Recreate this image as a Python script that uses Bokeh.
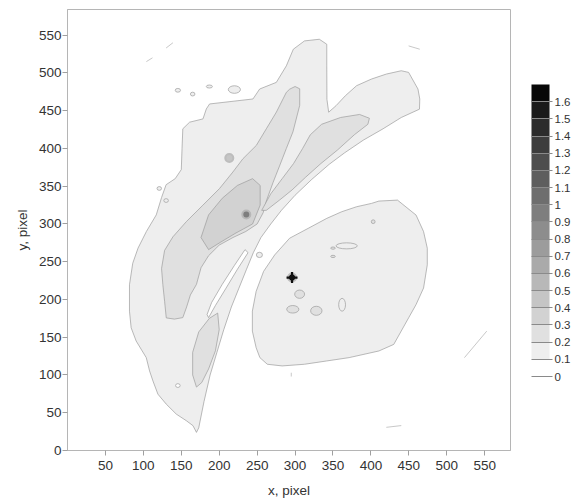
from bokeh.plotting import figure
from bokeh.models import (ColorBar, LinearColorMapper, FixedTicker, CustomJSTickFormatter,
                          Range1d, ColumnDataSource)
from bokeh.embed import file_html
from bokeh.resources import INLINE

# ---------------- data ----------------
x_ticks = [50, 100, 150, 200, 250, 300, 350, 400, 450, 500, 550]
y_ticks = [0, 50, 100, 150, 200, 250, 300, 350, 400, 450, 500, 550]
cb_ticks = [i / 10 for i in range(17)]
gray_levels = [255, 238, 224, 210, 197, 184, 170, 156, 141, 126, 110, 94, 78, 61, 44, 26, 8]

# level 0.1-0.2 : left + middle band
band_x = [297.7, 288.5, 275.3, 253.3, 244.5, 187.3, 183.0, 178.6, 161.0, 152.0, 151.0, 150.0, 142.0,
          130.0, 124.0, 117.0, 104.0, 93.0, 86.0, 81.7, 81.7, 83.9, 90.5, 103.8, 108.2, 112.6, 119.2,
          130.2, 143.4, 156.6, 165.4, 170.0,
          173, 180, 188, 197, 206, 216, 226, 236, 245, 255, 268, 282, 300, 322, 345, 365, 390, 416,
          440, 464,
          464.4, 462.0, 449.7, 440.0, 420.3, 400.7, 381.1, 366.4, 354.1, 344.3, 342.0, 341.8, 341.8,
          332.0, 312.4]
band_y = [531.4, 509.4, 487.5, 478.7, 465.5, 458.9, 452.3, 439.1, 434.8, 426.0, 400.0, 372.0, 360.0,
          352.0, 335.0, 312.0, 290.0, 268.0, 248.0, 219.5, 184.5, 162.5, 145.0, 123.0, 105.4, 92.2, 74.6,
          61.4, 48.2, 39.5, 32.9, 24.0,
          30, 65, 100, 130, 160, 190, 215, 240, 262, 282, 300, 318, 338, 359, 379, 394, 411, 426,
          441, 452,
          465.5, 478.7, 500.7, 502.9, 498.5, 491.9, 483.1, 469.9, 456.7, 448.0, 465.0, 509.4, 538.0,
          544.6, 542.4]

# level 0.1-0.2 : right blob
blob_x = [435, 459.5, 469.4, 474.3, 474.3, 469.4, 459.5, 449.7, 439.9, 430.1, 410.5, 390.9, 371.3,
          341.8, 312.4, 283, 263.4, 253.6, 248.7, 243.7, 243.7, 248.7, 258.5, 273.2, 292.8, 317.3,
          341.8, 361.5, 381.1, 400.7, 410.5]
blob_y = [331.6, 311.8, 289.9, 267.9, 245.9, 215.2, 193.2, 175.7, 158.1, 140.5, 131.8, 127.4, 123,
          118.6, 114.2, 112, 114.2, 123, 136.1, 158.1, 184.5, 210.8, 237.2, 259.1, 281.1, 294.2,
          307.4, 316.2, 322.8, 327.2, 330.3]

# level 0-0.1 : slot inside the band
slot_x = [234, 220, 204, 190, 184, 186, 195, 209, 224, 238]
slot_y = [266, 245, 220, 196, 180, 176, 192, 215, 240, 262]

# level 0.2-0.3 : left core
core_x = [300, 292.9, 288.5, 275.3, 262.1, 248.9, 231.3, 218.1, 200.5, 178.5, 156.6, 139, 128, 124,
          125.7, 128, 130.2, 141, 152, 157, 162, 170, 176, 186, 200, 218, 235, 250, 258, 262, 271,
          280, 288.5, 297.2, 306.1, 306.1]
core_y = [482, 478.5, 474.3, 448, 426, 404, 386.4, 368.9, 347, 324.9, 303, 283, 265, 241, 219.5,
          197.6, 175.6, 174, 176, 190, 206, 220, 242, 258, 272, 282, 290, 300, 315, 330, 355, 378,
          400, 422, 457, 479]

# level 0.2-0.3 : middle core
mid_x = [398, 385, 360, 335, 320, 310, 298, 283, 268, 256, 262, 280, 296, 314, 334, 356, 378, 396]
mid_y = [440, 445, 441, 432, 418, 400, 380, 360, 340, 318, 318, 332, 345, 362, 380, 398, 418, 432]

# level 0.2-0.3 : lower strip
strip_x = [198, 200, 195, 186, 177, 170, 165, 165, 173, 187]
strip_y = [182, 160, 132, 108, 90, 84, 100, 130, 157, 175]

# level 0.3-0.4 : inner core
inner_x = [176, 186, 204, 224, 244, 254, 254, 244, 222, 202, 186]
inner_y = [282, 312, 334, 351, 360, 351, 325, 300, 288, 276, 266]

# small closed contours (centre x, centre y, width, height, level)
ell_x = [306, 297, 328, 362, 368, 350, 350, 403, 253, 220, 145.5, 165, 187, 121, 130, 145.5]
ell_y = [207, 187, 185, 193, 271, 268, 257, 303, 259, 478, 477, 472, 482, 347, 331, 86]
ell_w = [13, 16, 15, 9, 28, 6, 6, 5, 8, 16, 7, 6, 8, 6, 6, 6]
ell_h = [11, 10, 12, 17, 8, 3, 3, 5, 7, 10, 5, 5, 4, 5, 5, 5]
ell_lv = [0.25, 0.25, 0.25, 0.15, 0.15, 0.25, 0.25, 0.25, 0.15, 0.15, 0.15, 0.15, 0.15, 0.15, 0.15, 0.05]

# peaks
peak_x = [296, 235.7, 213.3]
peak_y = [229, 312.6, 387.4]
peak_lv = [1.65, 0.95, 0.45]

# stray contour fragments
frag_xs = [[104, 112], [130, 139], [449.7, 464.4], [523.3, 552.7], [420.3, 440], [295, 295]]
frag_ys = [[515, 520], [533, 540], [535.8, 531.4], [123, 158.1], [30.7, 33], [98, 103]]

# ---------------- figure ----------------
palette = ["#%02x%02x%02x" % (v, v, v) for v in gray_levels]
mapper = LinearColorMapper(palette=palette, low=0, high=1.7)

FONT = "Liberation Sans"
p = figure(width=583, height=500, x_range=Range1d(0, 584), y_range=Range1d(0, 584),
           output_backend="svg", toolbar_location=None,
           min_border_left=67, min_border_right=73, min_border_top=9, min_border_bottom=48)
p.grid.visible = False
p.outline_line_color = "#b5b5b5"
p.background_fill_color = "white"

line_c = "#9c9c9c"
fill = {"field": "level", "transform": mapper}

def add_patches(xs, ys, levels):
    src = ColumnDataSource(dict(xs=xs, ys=ys, level=levels))
    p.patches("xs", "ys", source=src, fill_color=fill, line_color=line_c, line_width=0.7)

add_patches([band_x, blob_x], [band_y, blob_y], [0.15, 0.15])
add_patches([slot_x], [slot_y], [0.05])
add_patches([core_x, mid_x, strip_x], [core_y, mid_y, strip_y], [0.25, 0.25, 0.25])
add_patches([inner_x], [inner_y], [0.35])

esrc = ColumnDataSource(dict(x=ell_x, y=ell_y, w=ell_w, h=ell_h, level=ell_lv))
p.ellipse("x", "y", width="w", height="h", source=esrc, fill_color=fill,
          line_color=line_c, line_width=0.7)

p.multi_line(frag_xs, frag_ys, line_color="#b0b0b0", line_width=0.7)

psrc = ColumnDataSource(dict(x=peak_x, y=peak_y, level=peak_lv))
p.scatter("x", "y", source=psrc, marker="circle", size=10, fill_color="#b0b0b0",
          line_color=None, fill_alpha=0.8)
p.scatter("x", "y", source=psrc, marker="circle", size=6, fill_color=fill, line_color=None)
p.scatter(peak_x[:1], peak_y[:1], marker="cross", size=11, line_color="#111111", line_width=2.2)
p.scatter(peak_x[:1], peak_y[:1], marker="diamond", size=9, fill_color="#111111", line_color=None)

# axes
for ax in (p.xaxis[0], p.yaxis[0]):
    ax.axis_line_color = "#b5b5b5"
    ax.major_tick_line_color = "#a0a0a0"
    ax.major_tick_out = 5
    ax.major_tick_in = 0
    ax.minor_tick_line_color = None
    ax.major_label_text_font = FONT
    ax.major_label_text_font_size = "13.5px"
    ax.major_label_text_color = "#333333"
    ax.axis_label_text_font = FONT
    ax.axis_label_text_font_size = "13.5px"
    ax.axis_label_text_font_style = "normal"
    ax.axis_label_text_color = "#333333"

p.xaxis.ticker = FixedTicker(ticks=x_ticks)
p.yaxis.ticker = FixedTicker(ticks=y_ticks)
p.xaxis.axis_label = "x, pixel"
p.yaxis.axis_label = "y, pixel"
p.xaxis.major_label_standoff = 5
p.xaxis.axis_label_standoff = 10
p.yaxis.major_label_standoff = 1
p.yaxis.axis_label_standoff = 6

cb = ColorBar(color_mapper=mapper, ticker=FixedTicker(ticks=cb_ticks),
              formatter=CustomJSTickFormatter(code="return (Math.round(tick*10)/10).toString();"),
              width=18, height=292, location=(21, 74), padding=0, margin=0,
              major_label_text_font=FONT, major_label_text_font_size="11.5px",
              major_label_text_color="#333333", major_tick_in=18, major_tick_out=3,
              major_tick_line_color="#8a8a8a", minor_tick_line_color=None,
              bar_line_color=None, label_standoff=2, background_fill_alpha=0)
p.add_layout(cb, "right")

open("out.html", "w").write(file_html(p, INLINE))
